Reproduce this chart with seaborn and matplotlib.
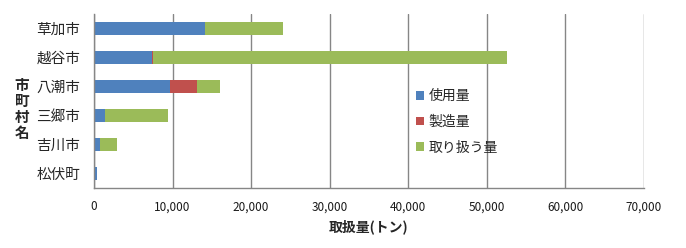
import matplotlib
matplotlib.use("Agg")
import matplotlib.pyplot as plt
import seaborn as sns
import pandas as pd
import numpy as np
from matplotlib.patches import Patch

sns.set_style("white")
plt.rcParams['font.family'] = ['Noto Sans CJK JP', 'DejaVu Sans']

categories = ["草加市", "越谷市", "八潮市", "三郷市", "吉川市", "松伏町"]
series_names = ["使用量", "製造量", "取り扱う量"]
use_vals = [14100, 7400, 9630, 1400, 760, 380]
make_vals = [0, 130, 3480, 0, 0, 0]
handle_vals = [9900, 45050, 2930, 8020, 2170, 0]
xticks = [0, 10000, 20000, 30000, 40000, 50000, 60000, 70000]
colors = ["#4F81BD", "#C0504D", "#9BBB59"]

df = pd.DataFrame({"市町村": categories, "使用量": use_vals,
                   "製造量": make_vals, "取り扱う量": handle_vals})
df["c1"] = df["使用量"]
df["c2"] = df["c1"] + df["製造量"]
df["c3"] = df["c2"] + df["取り扱う量"]

fig = plt.figure(figsize=(6.86, 2.48), dpi=100)
ax = fig.add_axes([94/686, 1-188/248, 550/686, 174/248])

for col, color in zip(["c3", "c2", "c1"], colors[::-1]):
    sns.barplot(data=df, y="市町村", x=col, order=categories, color=color,
                width=0.42, orient="h", ax=ax, saturation=1, linewidth=0)

ax.set_xlim(0, 70000)
ax.set_ylim(5.5, -0.5)
ax.set_xticks(xticks)
ax.set_xticklabels([f"{v:,}" for v in xticks], fontsize=8.5, color="#1a1a1a")
ax.set_yticks(range(len(categories)))
ax.set_yticklabels(categories, fontsize=10.5)
ax.set_yticks(np.arange(-0.5, len(categories), 1), minor=True)
ax.tick_params(axis="y", which="major", length=0, pad=10)
ax.tick_params(axis="y", which="minor", length=5, color="#868686", width=1)
ax.tick_params(axis="x", which="major", length=5, color="#868686", width=1, pad=4)
ax.grid(axis="x", color="#868686", linewidth=1)
ax.set_axisbelow(True)
for s in ["top", "right"]:
    ax.spines[s].set_visible(False)
for s in ["left", "bottom"]:
    ax.spines[s].set_color("#868686")
    ax.spines[s].set_linewidth(1)

ax.set_xlabel("取扱量(トン)", fontsize=10, fontweight="bold", labelpad=4)
ax.set_ylabel("")
fig.text(22/686, 1-109/248, "市\n町\n村\n名", fontsize=10.5, fontweight="bold",
         ha="center", va="center", linespacing=1.0)

handles = [Patch(facecolor=c, edgecolor="none") for c in colors]
leg = ax.legend(handles, series_names, loc="center left",
                bbox_to_anchor=(0.563, 0.38), frameon=False, fontsize=10,
                handlelength=0.6, handleheight=0.6, handletextpad=0.3,
                labelspacing=0.85)

fig.savefig("out.png", dpi=100)
